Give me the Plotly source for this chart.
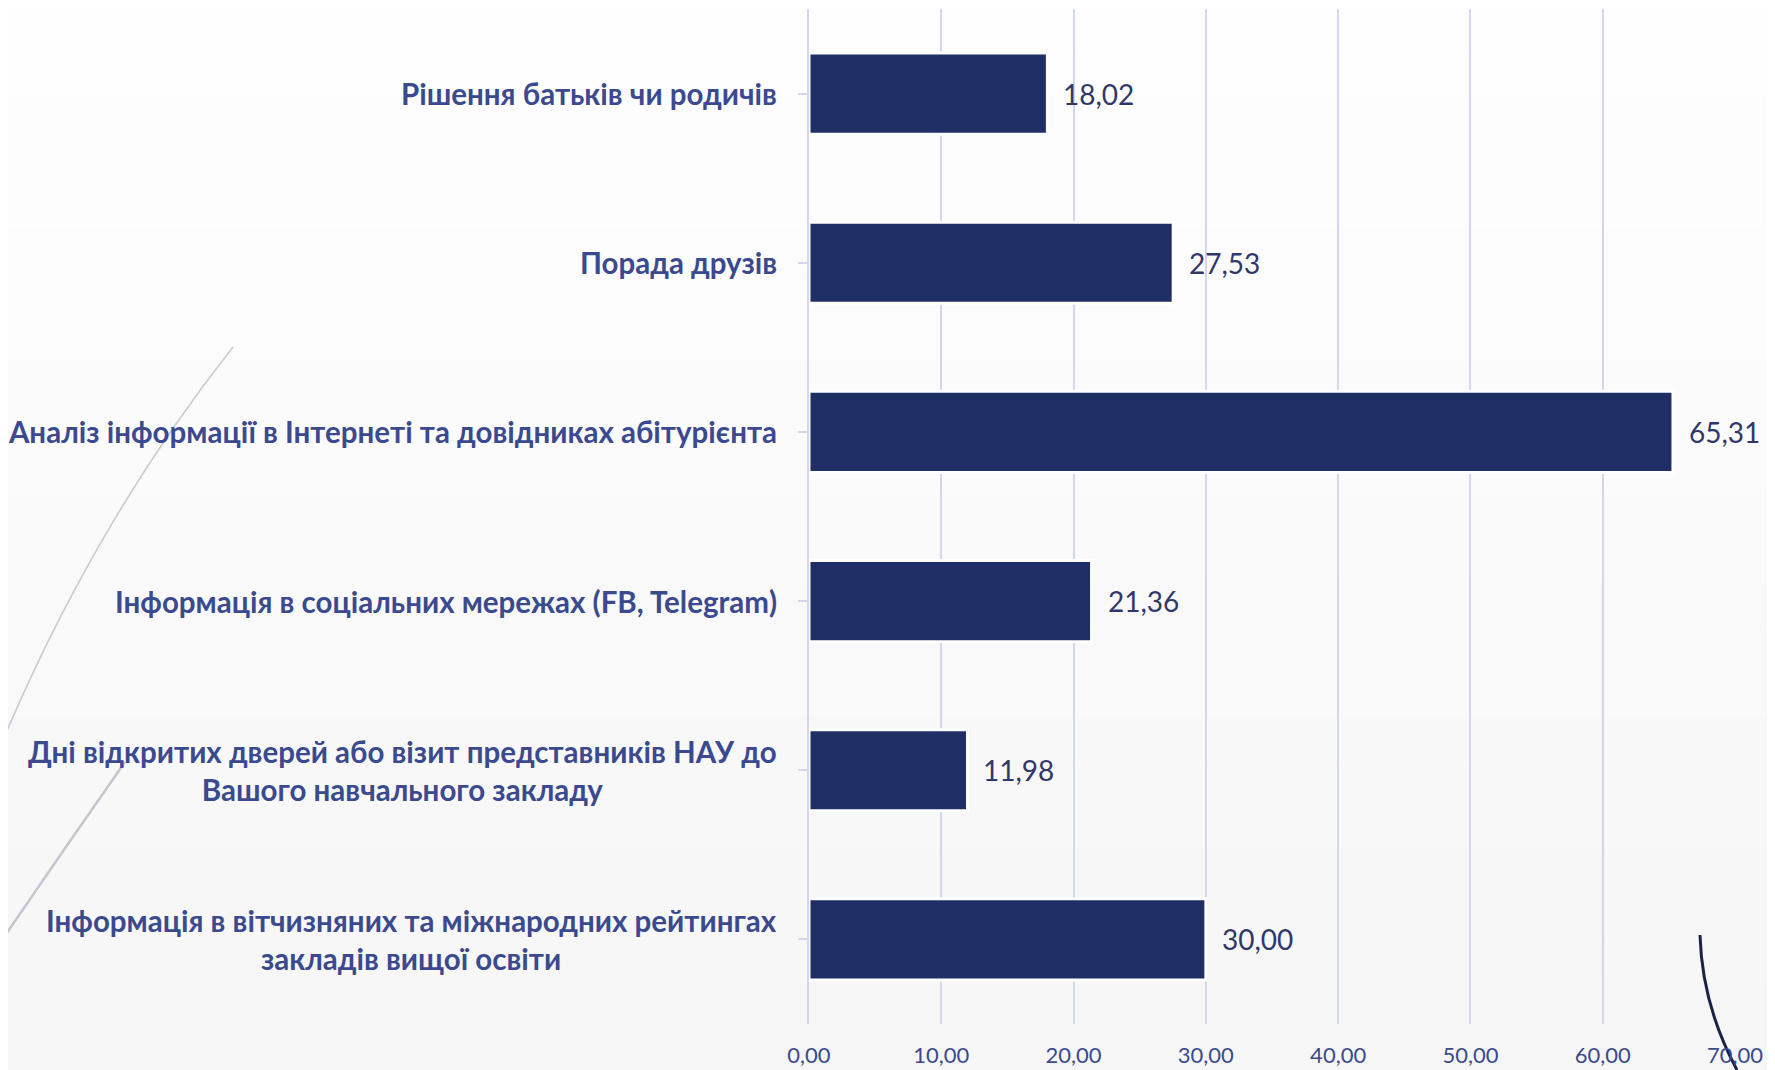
import plotly.graph_objects as go

categories = [
    "Рішення батьків чи родичів",
    "Порада друзів",
    "Аналіз інформації в Інтернеті та довідниках абітурієнта",
    "Інформація в соціальних мережах (FB, Telegram)",
    "Дні відкритих дверей або візит представників НАУ до<br>Вашого навчального закладу",
    "Інформація в вітчизняних та міжнародних рейтингах<br>закладів вищої освіти",
]
values = [18.02, 27.53, 65.31, 21.36, 11.98, 30.00]
x_ticks = [0, 10, 20, 30, 40, 50, 60, 70]

# page is offset by the default 8px body margin
OFF = 8
W, H = 1775 - OFF, 1070 - OFF
L, R, T, B = 809 - OFF, 1735 - OFF, 9 - OFF, 1024 - OFF
FONT = "Lato, Open Sans, sans-serif"
BAR = "#202E66"
LABEL = "#3B4A8F"
VAL = "#30386A"
GRID = "#D3D6EE"

ids = list(range(len(categories)))

fig = go.Figure()
fig.add_trace(go.Bar(
    x=values, y=ids, orientation="h", width=0.48,
    marker=dict(color=BAR, line=dict(color="white", width=3)),
    hoverinfo="skip",
))

annotations = []
for i, (c, v) in enumerate(zip(categories, values)):
    annotations.append(dict(
        x=0, xref="x domain", y=i, yref="y", text=c, showarrow=False,
        xanchor="right", yanchor="middle", align="center", xshift=-30,
        font=dict(family=FONT, size=29.5, color=LABEL, weight="bold"),
    ))
    annotations.append(dict(
        x=v, xref="x", y=i, yref="y", text=f"{v:.2f}".replace(".", ","),
        showarrow=False, xanchor="left", yanchor="middle", xshift=14,
        font=dict(family=FONT, size=28, color=VAL),
    ))

def px(xp, yp):
    # page pixel -> paper coordinate
    xp -= OFF; yp -= OFF
    return ((xp - L) / (R - L), (B - yp) / (B - T))

shapes = []
n = 24
for k in range(n):
    y0 = OFF + k * H / n
    y1 = OFF + (k + 1) * H / n
    g = int(round(254 - (254 - 246) * (k / (n - 1))))
    a0 = px(OFF, y0)
    a1 = px(OFF + W, y1)
    shapes.append(dict(type="rect", xref="paper", yref="paper",
                       x0=a0[0], x1=a1[0], y0=a1[1], y1=a0[1],
                       fillcolor=f"rgb({g},{g},{g})", line=dict(width=0), layer="below"))

def curve(p0, c, p1, color, width):
    a = px(*p0); b = px(*c); d = px(*p1)
    return dict(type="path", xref="paper", yref="paper",
                path=f"M {a[0]},{a[1]} Q {b[0]},{b[1]} {d[0]},{d[1]}",
                line=dict(color=color, width=width), layer="below")

def poly(pts, color):
    q = [px(*p) for p in pts]
    path = "M " + " L ".join(f"{a},{b}" for a, b in q) + " Z"
    return dict(type="path", xref="paper", yref="paper", path=path,
                fillcolor=color, line=dict(width=0), layer="below")

shapes.append(curve((233, 347), (94, 523), (0, 747), "#CACAD2", 1.6))
shapes.append(curve((125, 762), (62, 852), (0, 943), "#C6C6CE", 2.5))
shapes.append(curve((1700, 935), (1702, 1005), (1737, 1070), "#1C2247", 3))
shapes.append(poly([(1768, 875), (1775, 868), (1775, 990)], "#CFCFD5"))

fig.update_layout(
    width=W, height=H,
    margin=dict(l=L, r=W - R, t=T, b=H - B, autoexpand=False),
    paper_bgcolor="#FAFAFA", plot_bgcolor="rgba(0,0,0,0)",
    showlegend=False, separators=",.",
    annotations=annotations, shapes=shapes,
)
fig.update_xaxes(
    range=[0, 70], tickvals=x_ticks, tickformat=".2f",
    showgrid=True, gridcolor=GRID, gridwidth=2, zeroline=False, showline=False,
    tickfont=dict(family=FONT, size=22, color=LABEL), ticks="", ticklabelstandoff=16,
)
fig.update_yaxes(
    range=[5.5, -0.5], tickvals=ids, ticktext=[""] * len(ids),
    showgrid=False, zeroline=False, showline=True, linecolor=GRID, linewidth=2,
    ticks="outside", tickson="boundaries", ticklen=9, tickcolor=GRID, tickwidth=2,
)

fig.write_html("out.html")
